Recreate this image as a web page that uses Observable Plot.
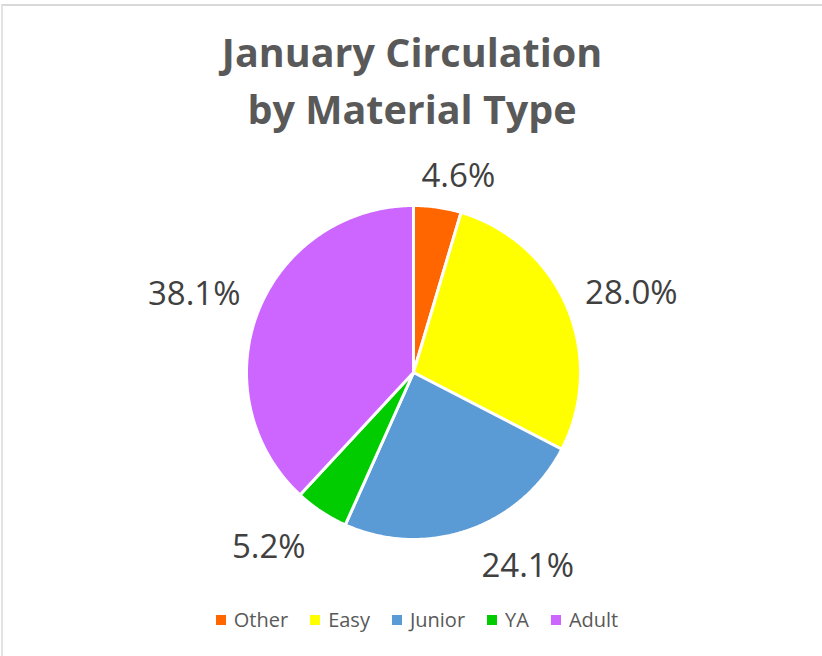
<!DOCTYPE html>
<html><head><meta charset="utf-8">
<script src="https://cdn.jsdelivr.net/npm/d3@7"></script>
<script src="https://cdn.jsdelivr.net/npm/@observablehq/plot@0.6"></script>
<style>
body{margin:0;background:#fff;}
#chart{position:relative;width:822px;height:656px;overflow:hidden;font-family:"Open Sans",sans-serif;background:#fff;}
#frame{position:absolute;left:1px;top:4px;width:900px;height:900px;border-top:2px solid #d9d9d9;border-left:2px solid #e3e3e3;}
#title{position:absolute;left:0;top:24px;width:824px;text-align:center;font-size:39.5px;line-height:57px;font-weight:700;color:#595959;}
#plot{position:absolute;left:0;top:140px;}
#legend{position:absolute;left:0;top:606px;width:834px;display:flex;justify-content:center;align-items:center;font-size:20px;color:#595959;}
.item{display:flex;align-items:center;margin:0 11px;}
.sw{width:10px;height:10px;margin-right:8px;}
</style></head><body>
<div id="chart"><div id="frame"></div><div id="title">January Circulation<br>by Material Type</div><div id="plot"></div><div id="legend"></div></div>
<script>
// ---- data ----
const categories = ["Other", "Easy", "Junior", "YA", "Adult"];
const shares = [4.6, 28.0, 24.1, 5.2, 38.1];
const colors = ["#ff6600", "#ffff00", "#5b9bd5", "#00cc00", "#cc66ff"];

// ---- layout ----
const W = 822, H = 460;          // svg size
const R = 167;                   // pie radius in px
const CX = 413, CY = 232;        // pie centre inside svg (px)
const labelGap = 15, labelHalfW = 46, labelHalfH = 16; // px
const labelNudge = {Other: [12, 0], Easy: [8, -2], Junior: [39, 7], YA: [-19, 10], Adult: [-7, -6]}; // px

const data = categories.map((c, i) => ({category: c, value: shares[i]}));
const arcs = d3.pie().sort(null).value(d => d.value)(data);

// slice polygons in unit-radius coordinates (y up)
const slicePts = [];
for (const a of arcs) {
  const c = a.data.category;
  slicePts.push({category: c, x: 0, y: 0});
  const n = Math.max(2, Math.ceil((a.endAngle - a.startAngle) / (Math.PI / 360)));
  for (let k = 0; k <= n; k++) {
    const t = a.startAngle + (a.endAngle - a.startAngle) * k / n;
    slicePts.push({category: c, x: Math.sin(t), y: Math.cos(t)});
  }
  slicePts.push({category: c, x: 0, y: 0});
}

// label anchors
const labels = arcs.map(a => {
  const m = (a.startAngle + a.endAngle) / 2;
  const s = Math.sin(m), co = Math.cos(m);
  const nud = labelNudge[a.data.category];
  const r = 1 + labelGap / R;
  return {
    text: a.data.value.toFixed(1) + "%",
    x: r * s + (labelHalfW * s + nud[0]) / R,
    y: r * co + (labelHalfH * co - nud[1]) / R
  };
});

const plot = Plot.plot({
  width: W, height: H,
  margin: 0,
  x: {domain: [-CX / R, (W - CX) / R], axis: null},
  y: {domain: [-(H - CY) / R, CY / R], axis: null},
  color: {domain: categories, range: colors},
  style: {background: "transparent", overflow: "visible"},
  marks: [
    Plot.line(slicePts, {x: "x", y: "y", z: "category", fill: "category", stroke: "white", strokeWidth: 3, strokeLinejoin: "round"}),
    Plot.text(labels, {x: "x", y: "y", text: "text", fontSize: 33, fontFamily: "Open Sans", fill: "#404040", textAnchor: "middle", lineAnchor: "middle"})
  ]
});
document.getElementById("plot").appendChild(plot);

// legend
const leg = d3.select("#legend");
categories.forEach((c, i) => {
  const it = leg.append("div").attr("class", "item");
  it.append("div").attr("class", "sw").style("background", colors[i]);
  it.append("span").text(c);
});
</script>
</body></html>
